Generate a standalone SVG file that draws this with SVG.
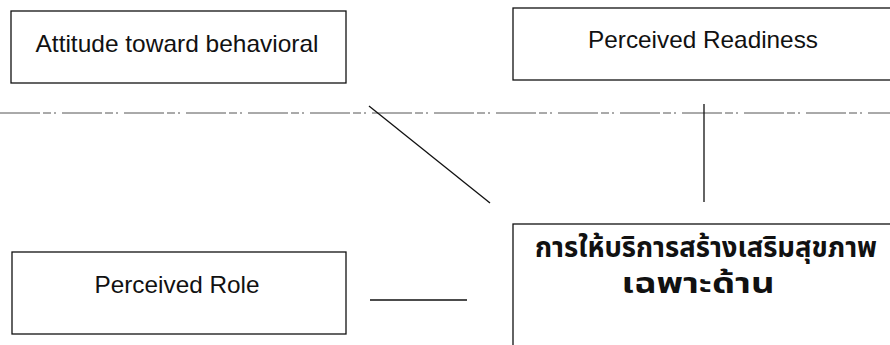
<svg xmlns="http://www.w3.org/2000/svg" width="890" height="345" viewBox="0 0 890 345">
<style>
.box{fill:#fff;stroke:#111;stroke-width:1.3}
.lbl{font-family:"Liberation Sans",Arial,sans-serif;font-size:24px;fill:#111;text-anchor:middle}
.th{font-family:"Noto Sans Thai","Noto Sans","DejaVu Sans",sans-serif;font-size:28px;font-weight:bold;fill:#111;text-anchor:middle}
.con{stroke:#111;stroke-width:1.3;fill:none}
.guide{stroke:#555;stroke-width:1;stroke-dasharray:40 3 8 3 2 6}
</style>
<rect width="890" height="345" fill="#fff"/>
<line class="guide" x1="0" y1="113" x2="890" y2="113"/>
<g id="attitude">
<rect class="box" x="11" y="11" width="335" height="72"/>
<text class="lbl" x="177" y="52" textLength="283" lengthAdjust="spacingAndGlyphs">Attitude toward behavioral</text>
</g>
<g id="readiness">
<rect class="box" x="513" y="8" width="390" height="72"/>
<text class="lbl" x="703" y="48" textLength="230" lengthAdjust="spacingAndGlyphs">Perceived Readiness</text>
</g>
<g id="role">
<rect class="box" x="12" y="252" width="334" height="82"/>
<text class="lbl" x="177" y="293" textLength="165" lengthAdjust="spacingAndGlyphs">Perceived Role</text>
</g>
<g id="service">
<rect class="box" x="513" y="224" width="390" height="140"/>
<text class="th" x="706" y="257" textLength="342" lengthAdjust="spacingAndGlyphs">การให้บริการสร้างเสริมสุขภาพ</text>
<text class="th" x="698" y="293" textLength="153" lengthAdjust="spacingAndGlyphs">เฉพาะด้าน</text>
</g>
<g id="connectors">
<line class="con" x1="369" y1="106" x2="490" y2="203"/>
<line class="con" x1="704" y1="104" x2="704" y2="202"/>
<line class="con" x1="370" y1="300" x2="467" y2="300"/>
</g>
</svg>
